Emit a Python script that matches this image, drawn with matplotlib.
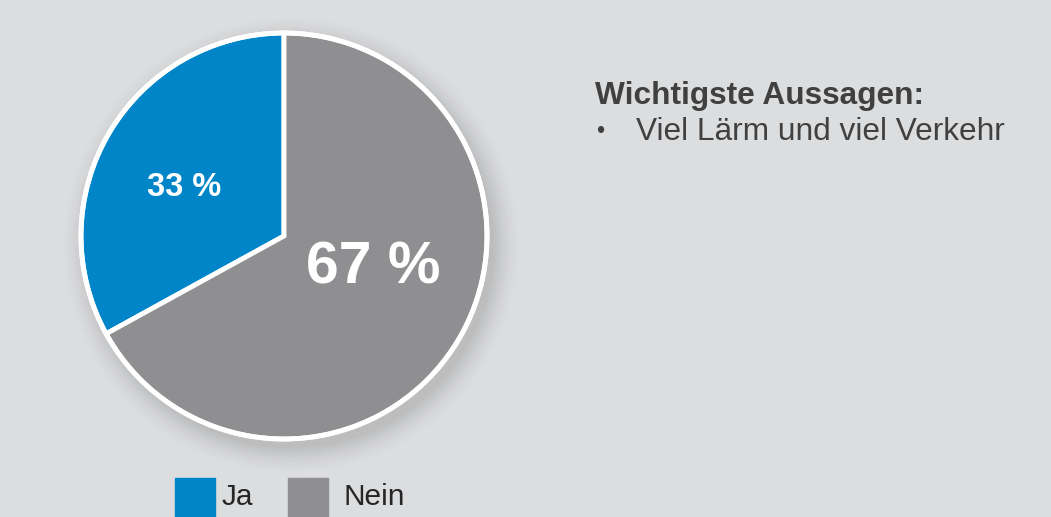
import matplotlib
matplotlib.use("Agg")
import matplotlib.pyplot as plt
from matplotlib.patches import Circle, Rectangle
import numpy as np

labels = ["Ja", "Nein"]
values = [33, 67]
pct_labels = ["33 %", "67 %"]
colors = ["#0085c8", "#8f8f91"]
title_text = "Wichtigste Aussagen:"
bullets = ["Viel Lärm und viel Verkehr"]

bg = "#dcdddf"
W, H = 1051, 517
plt.rcParams['font.family'] = ['Liberation Sans', 'DejaVu Sans']
fig = plt.figure(figsize=(W / 100, H / 100), dpi=100, facecolor=bg)

cx, cy, rad = 284, 517 - 236, 203
half = 240
ax = fig.add_axes([(cx - half) / W, (cy - half) / H, 2 * half / W, 2 * half / H])
R = half / rad
ax.set_aspect("equal")
ax.axis("off")

# soft shadow
for i, a in enumerate(np.linspace(0.07, 0.012, 12)):
    ax.add_patch(Circle((0.035, -0.045), 1.0 + i * 0.011, color="#9a9a9a", alpha=a, lw=0, zorder=0))

wedges, _ = ax.pie(values, colors=colors, startangle=90, counterclock=True, radius=1.0,
                   wedgeprops=dict(edgecolor="white", linewidth=3.5), frame=False)
ax.set_xlim(-R, R)
ax.set_ylim(-R, R)
ax.add_patch(Circle((0, 0), 1.0, fill=False, edgecolor="white", lw=3.5, zorder=5))

ax.text((184 - cx) / rad, ((517 - 188) - cy) / rad,
        pct_labels[0], color="white", fontsize=23.5, fontweight="bold", ha="center", va="center")
ax.text((373 - cx) / rad, ((517 - 268) - cy) / rad,
        pct_labels[1], color="white", fontsize=42.5, fontweight="bold", ha="center", va="center")

# legend
leg_x = [175, 288]
txt_x = [222, 343]
for i, (lab, col) in enumerate(zip(labels, colors)):
    fig.patches.append(Rectangle((leg_x[i] / W, 0 / H), 40 / W, 39 / H, transform=fig.transFigure,
                                 color=col, zorder=3))
    fig.text(txt_x[i] / W, (517 - 497) / H, lab, fontsize=21.5, color="#262626",
             ha="left", va="center")

fig.text(595 / W, (517 - 96) / H, title_text, fontsize=22.8, fontweight="bold", color="#404040",
         ha="left", va="center")
for j, b in enumerate(bullets):
    y = (517 - 132 - j * 30) / H
    fig.text(596 / W, y, "•", fontsize=17, color="#404040", ha="left", va="center")
    fig.text(636 / W, y, b, fontsize=22.8, color="#404040", ha="left", va="center")

fig.savefig("out.png", dpi=100, facecolor=bg)
